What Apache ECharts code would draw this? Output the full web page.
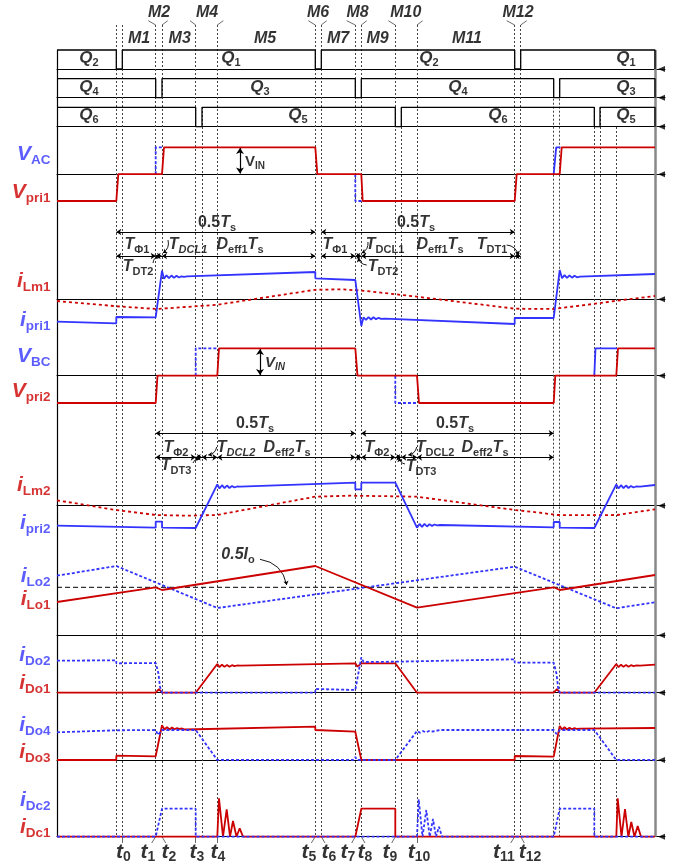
<!DOCTYPE html>
<html><head><meta charset="utf-8">
<script src="https://cdn.jsdelivr.net/npm/echarts@6/dist/echarts.min.js"></script>
<style>html,body{margin:0;padding:0;background:#fff}#c{width:695px;height:867px}</style>
</head><body><div id="c"></div>
<script>
// ---------------- data (time in arbitrary units, values in arbitrary units) ----------------
const markerTimes = [59.3,65.3,98.7,105,138.7,145,160.3,258.3,264.3,298.3,304.3,338.3,344.3,360,457.7,463.7,496.7,502.7,537.3,543,559.3];
const timeTickLabels = ['0','1','2','3','4','5','6','7','8','9','10','11','12'];
const timeTickAt = [65.3,98.7,105,138.7,160.3,258.3,264.3,298.3,304.3,338.3,360,457.7,463.7];
const modeLabelsTop = ['M2','M4','M6','M8','M10','M12'];
const modeLabelsBottom = ['M1','M3','M5','M7','M9','M11'];

const gateQ12 = [[0,1],[59.3,1],[59.3,0],[65.3,0],[65.3,1],[258.3,1],[258.3,0],[264.3,0],[264.3,1],[457.7,1],[457.7,0],[463.7,0],[463.7,1],[598,1],[598,0]];
const gateQ34 = [[0,1],[98.7,1],[98.7,0],[105,0],[105,1],[298.3,1],[298.3,0],[304.3,0],[304.3,1],[496.7,1],[496.7,0],[502.7,0],[502.7,1],[598,1],[598,0]];
const gateQ56 = [[0,1],[138.7,1],[138.7,0],[145,0],[145,1],[338.3,1],[338.3,0],[344.3,0],[344.3,1],[537.3,1],[537.3,0],[543,0],[543,1],[598,1],[598,0]];

// VAC where it differs from Vpri1
const vAC1 = [[98.7,0],[98.7,1],[105,1]];
const vAC2 = [[298.3,0],[298.3,-1],[304.3,-1]];
const vAC3 = [[496.7,0],[499.2,1],[503.5,1]];
const vPri1 = [[0,-1],[59.3,-1],[61.3,0],[105,0],[107,1],[258.3,1],[260.3,0],[304.3,0],[305.7,-1],[457.7,-1],[459.7,0],[502.7,0],[504.7,1],[598,1]];

const iLm1  = [[0,-0.17],[60,-0.7],[100,-0.97],[160,-0.55],[258,0.95],[285,1.0],[310,0.82],[360,0.26],[458,-0.94],[496,-0.97],[536,-0.47],[560,-0.14],[598,0.33]];
const iPri1 = [[0,-2.24],[59.3,-2.4],[59.3,-1.77],[98.7,-1.8],[105,2.86],
  [107,2.05],[109.5,2.4],[112,2.12],[114.5,2.38],[117,2.14],[119.5,2.36],[122,2.18],[124.5,2.3],[127,2.25],[130,2.3],
  [258.3,2.73],[258.3,2.1],[298.3,1.93],[304.3,-2.67],
  [306.5,-1.8],[309,-2.05],[311.5,-1.78],[314,-2.02],[316.5,-1.8],[319,-2.0],[321.5,-1.85],[324,-1.95],[328,-1.94],
  [457.7,-2.47],[457.7,-1.87],[496.7,-1.87],[502.7,2.93],
  [505,2.1],[507.5,2.42],[510,2.14],[512.5,2.4],[515,2.16],[517.5,2.36],[520,2.2],[523,2.26],[598,2.53]];

// VBC where it differs from Vpri2
const vBC1 = [[138.7,0],[138.7,1],[160.3,1]];
const vBC2 = [[338.3,0],[338.3,-1],[360,-1]];
const vBC3 = [[537.3,0],[538.5,1],[560,1]];
const vPri2 = [[0,-1],[98.7,-1],[100.5,0],[160.3,0],[162,1],[298.3,1],[300.5,0],[360,0],[362,-1],[496.7,-1],[498.3,0],[559.3,0],[561,1],[598,1]];

const iLm2  = [[0,0.54],[59,-0.43],[99,-0.93],[130,-1.0],[160,-0.93],[258,0.9],[293,1.0],[330,0.95],[360,0.9],[458,-0.43],[483,-0.7],[500,-0.93],[530,-0.95],[560,-0.93],[598,-0.36]];
const iPri2 = [[0,-2.0],[98.7,-2.2],[98.7,-1.6],[105,-1.6],[105,-2.2],[138.7,-2.23],[160.3,2.14],
  [162.5,1.72],[165,2.05],[167.5,1.75],[170,2.02],[172.5,1.77],[175,1.98],[177.5,1.82],[180,1.92],[183,1.9],
  [298.3,2.3],[298.3,1.64],[304.3,1.64],[304.3,2.3],[338.3,2.3],[360,-2.2],
  [362.5,-1.82],[365,-2.12],[367.5,-1.82],[370,-2.08],[372.5,-1.85],[375,-2.02],[377.5,-1.88],[380,-1.96],[383,-1.93],
  [496.7,-2.16],[496.7,-1.63],[502.7,-1.63],[502.7,-2.2],[537.3,-2.23],[559.3,2.14],
  [561.5,1.72],[564,2.05],[566.5,1.75],[569,2.02],[571.5,1.77],[574,1.98],[576.5,1.82],[579,1.92],[583,1.9],[598,2.07]];

const halfIo = [[0,4.8],[598,4.8]];
const iLo2 = [[0,5.96],[59.3,6.93],[160.3,2.73],[457.7,6.86],[559.3,2.7],[598,3.3]];
const iLo1 = [[0,3.33],[98.7,4.8],[105,4.53],[258.3,6.93],[360,2.76],[496.7,4.8],[502.7,4.53],[598,6.03]];

const iDo2 = [[0,3.2],[59.3,3.24],[59.3,2.94],[98.7,2.97],[101.5,1.9],[103,0.6],[105,0],[258.3,0],[258.3,0.37],[298.3,0.27],[304.3,3.54],[306.5,3.07],[338.3,3.1],[457.7,3.34],[457.7,3.0],[496.7,3.0],[499.5,1.9],[501,0.6],[502.7,0],[598,0]];
const iDo1 = [[0,0],[98.7,0],[100.5,0.2],[102,0.37],[103.5,0.2],[105,0],[138.7,0],[160.3,2.87],
  [162.5,2.55],[165,2.8],[167.5,2.58],[170,2.78],[172.5,2.6],[175,2.75],[177.5,2.65],[180,2.72],[183,2.7],
  [298.3,2.94],[300.5,2.6],[302.5,2.62],[304.3,2.94],[338.3,2.94],[360,0],[496.7,0],[498.5,0.2],[500,0.37],[501.5,0.2],[502.7,0],[537.3,0],[559.3,2.87],
  [561.5,2.55],[564,2.8],[566.5,2.58],[569,2.78],[571.5,2.6],[574,2.75],[576.5,2.65],[579,2.72],[583,2.7],[598,2.8]];

const iDo4 = [[0,2.77],[59.3,2.97],[98.7,3.0],[101,2.5],[105,3.0],[138.7,3.0],[160.3,0],[296,0],[298.3,0.3],[300,0],[338.3,0],[360,2.9],[363,2.72],[366,2.9],[369,2.76],[372,2.9],[376,2.85],[383,3.0],[496.7,3.0],[499.5,2.6],[502.7,3.0],[537.3,3.0],[559.3,0],[598,0]];
const iDo3 = [[0,0],[59.3,0],[59.3,0.43],[98.7,0.37],[105,3.47],
  [107.5,3.05],[110,3.28],[112.5,3.05],[115,3.25],[117.5,3.07],[120,3.2],[122.5,3.1],[125,3.15],[128,3.05],
  [258.3,3.33],[258.3,3.0],[298.3,2.83],[304.3,0],[457.7,0],[457.7,0.4],[496.7,0.33],[502.7,3.4],
  [505,3.05],[507.5,3.27],[510,3.05],[512.5,3.23],[515,3.08],[517.5,3.2],[520,3.1],[523,3.13],[598,3.2]];

const iDc2 = [[0,0],[98.7,0],[105,2.8],[138.7,2.8],[138.7,0],[360,0],[361.7,3.74],[365.5,0],[369.3,2.67],[372.7,0],[376,1.77],[379,0],[382,1.0],[385,0],[496.7,0],[502.7,2.8],[537.3,2.8],[537.3,0],[598,0]];
const iDc1 = [[0,0],[160.3,0],[162,3.84],[166,0],[169.7,2.74],[173,0],[176,1.57],[179.5,0],[182.7,0.84],[186,0],[298.3,0],[304.3,2.8],[338.3,2.8],[338.3,0],[559.3,0],[560.7,3.84],[564.5,0],[568,2.77],[571.3,0],[574.3,1.47],[577.5,0],[580.7,1.07],[584,0],[598,0]];

// ---------------- layout & style ----------------
const FONT = '"Liberation Sans", Arial, sans-serif';
const BLUE = '#3333ff', RED = '#cc0000';
const W = 1.8;
const bands = [
  {top:50, height:19, min:0, max:1},
  {top:78.7, height:19, min:0, max:1},
  {top:107.3, height:19.4, min:0, max:1},
  {top:147.3, height:53.7, min:-1, max:1},
  {top:259.3, height:75, min:-3.5, max:4},
  {top:348.3, height:54.7, min:-1, max:1},
  {top:475.7, height:65, min:-3.5, max:3},
  {top:555.3, height:80, min:0, max:8},
  {top:652.7, height:40, min:0, max:4},
  {top:720, height:40, min:0, max:4},
  {top:796.7, height:40, min:0, max:4}
];
const traces = [
  [0, gateQ12, '#000', 'solid', 1.3],
  [1, gateQ34, '#000', 'solid', 1.3],
  [2, gateQ56, '#000', 'solid', 1.3],
  [3, vAC1, BLUE, [3,2], W],
  [3, vAC2, BLUE, [3,2], W],
  [3, vAC3, BLUE, 'solid', W],
  [3, vPri1, RED, 'solid', W],
  [4, iLm1, RED, [3,3], W],
  [4, iPri1, BLUE, 'solid', W],
  [5, vBC1, BLUE, [3,2], W],
  [5, vBC2, BLUE, [3,2], W],
  [5, vBC3, BLUE, 'solid', W],
  [5, vPri2, RED, 'solid', W],
  [6, iLm2, RED, [3,3], W],
  [6, iPri2, BLUE, 'solid', W],
  [7, halfIo, '#000', [5,3], 1],
  [7, iLo2, BLUE, [3,2], W],
  [7, iLo1, RED, 'solid', W],
  [8, iDo1, RED, 'solid', W],
  [8, iDo2, BLUE, [3,2], W],
  [9, iDo3, RED, 'solid', W],
  [9, iDo4, BLUE, [3,2], W],
  [10, iDc1, RED, 'solid', W],
  [10, iDc2, BLUE, [3,2], W]
];
const markerTop = [25,25,25,25,25,107,25,25,25,25,25,25,107,25,25,25,78.7,78.7,107,107,127];
const tickLeaderEnd = [65.3,94.7,108.7,138.7,160.3,254.3,268,294.7,308,334.7,360,453.7,467.3];
const tickLabelX = [66.5,91,112,140,161,252,272,291,308,333,362,447,473];
const modeTopX = [102,150,261,300.5,348.8,461];
const modeBottomX = [82,122.7,208,281,320.5,410];
const modeLeaders = [[91.3,98.7],[110.7,105],[133,138.7],[166.3,160.3],[251.3,258.3],[269.7,264.3],[289.7,298.3],[309.7,304.3],[331.3,338.3],[365.7,360],[449.7,457.7],[469.7,463.7]];

const rich = {
  Lb:{fontFamily:FONT,fontSize:21,fontWeight:'bold',fontStyle:'italic',color:BLUE,lineHeight:26},
  lb:{fontFamily:FONT,fontSize:13.5,fontWeight:'bold',color:BLUE,lineHeight:13,verticalAlign:'bottom'},
  Lr:{fontFamily:FONT,fontSize:21,fontWeight:'bold',fontStyle:'italic',color:RED,lineHeight:26},
  lr:{fontFamily:FONT,fontSize:13.5,fontWeight:'bold',color:RED,lineHeight:13,verticalAlign:'bottom'},
  T:{fontFamily:FONT,fontSize:21,fontWeight:'bold',fontStyle:'italic',color:'#000',lineHeight:24},
  t:{fontFamily:FONT,fontSize:14,fontWeight:'bold',color:'#000',lineHeight:12,verticalAlign:'bottom'},
  Q:{fontFamily:FONT,fontSize:17,fontWeight:'bold',fontStyle:'italic',color:'#000',lineHeight:20},
  q:{fontFamily:FONT,fontSize:11,fontWeight:'bold',color:'#000',lineHeight:10,verticalAlign:'bottom'},
  M:{fontFamily:FONT,fontSize:16,fontWeight:'bold',fontStyle:'italic',color:'#000',lineHeight:18},
  A:{fontFamily:FONT,fontSize:16,fontWeight:'bold',fontStyle:'italic',color:'#000',lineHeight:20},
  Ai:{fontFamily:FONT,fontSize:16,fontWeight:'bold',fontStyle:'italic',color:'#000',lineHeight:20},
  N:{fontFamily:FONT,fontSize:16,fontWeight:'bold',color:'#000',lineHeight:20},
  a:{fontFamily:FONT,fontSize:11,fontWeight:'bold',color:'#000',lineHeight:10,verticalAlign:'bottom'},
  ai:{fontFamily:FONT,fontSize:11,fontWeight:'bold',fontStyle:'italic',color:'#000',lineHeight:10,verticalAlign:'bottom'},
  V:{fontFamily:FONT,fontSize:15,fontWeight:'bold',color:'#000',lineHeight:18},
  v:{fontFamily:FONT,fontSize:10,fontWeight:'bold',color:'#000',lineHeight:9,verticalAlign:'bottom'},
  Vi:{fontFamily:FONT,fontSize:15,fontWeight:'bold',fontStyle:'italic',color:'#000',lineHeight:18},
  vi:{fontFamily:FONT,fontSize:10,fontWeight:'bold',fontStyle:'italic',color:'#000',lineHeight:9,verticalAlign:'bottom'}
};

const leftLabels = [['b','V','AC',154],['r','V','pri1',192],['r','i','Lm1',281],['b','i','pri1',320],['b','V','BC',356],['r','V','pri2',391],
  ['r','i','Lm2',485],['b','i','pri2',523],['b','i','Lo2',576],['r','i','Lo1',599],['b','i','Do2',655],['r','i','Do1',683],
  ['b','i','Do4',725],['r','i','Do3',752],['b','i','Dc2',800],['r','i','Dc1',827]];
const gateLabels = [['2',32,58],['1',174,58],['2',372,58],['1',569,58],['4',32,87],['3',203,87],['4',401,87],['3',569,87],['6',32,115.5],['5',241,115.5],['6',441,115.5],['5',569,115.5]];
const annotations = [
  ['{N|0.5}{A|T}{a|s}',160,223],['{N|0.5}{A|T}{a|s}',359,223],
  ['{A|T}{a|Φ1}',80,245],['{A|T}{ai|DCL1}',131,245],['{A|D}{a|eff1}{A|T}{a|s}',183,245],['{A|T}{a|DT2}',81,267],
  ['{A|T}{a|Φ1}',278,245],['{A|T}{a|DCL1}',328,245],['{A|D}{a|eff1}{A|T}{a|s}',383,245],['{A|T}{a|DT1}',435,245],['{A|T}{a|DT2}',326,267],
  ['{N|0.5}{A|T}{a|s}',198,424],['{N|0.5}{A|T}{a|s}',398,424],
  ['{A|T}{a|Φ2}',119,448],['{A|T}{a|DT3}',119,466],['{A|T}{ai|DCL2}',179,448],['{A|D}{a|eff2}{A|T}{a|s}',230,448],
  ['{A|T}{a|Φ2}',320,448],['{A|T}{a|DCL2}',378,448],['{A|D}{a|eff2}{A|T}{a|s}',428,448],['{A|T}{a|DT3}',364,467],
  ['{Ai|0.5}{A|I}{a|o}',181,555]
];
const dimArrows = [
  [59.3,258.3,232],[264.3,457.7,232],
  [59.3,98.7,256],[98.7,105,256],[105,258.3,256],[264.3,298.3,256],[298.3,304.3,256],[304.3,457.7,256],[457.7,463.7,256],
  [98.7,298.3,433.3],[304.3,496.7,433.3],
  [98.7,138.7,457.3],[138.7,145,457.3],[145,160.3,457.3],[160.3,298.3,457.3],[298.3,304.3,457.3],[304.3,338.3,457.3],[338.3,344.3,457.3],[344.3,360,457.3],[360,496.7,457.3]
];
const curvedLeaders = [
  [[111,240],[106,253]],[[96,263],[102,256]],[[311,242],[304.7,253]],[[309.7,265],[301.3,258]],[[449.7,245],[461.3,255]],
  [[136,463],[142,459]],[[159.7,447],[151.3,455]],[[348,464],[342.3,458]],[[359.7,447],[351.3,455]],[[203,559.3],[229.7,585]]
];

// ---------------- build ----------------
const grid = [{left:0, width:665, top:0, height:867, outerBoundsMode:'none'}];
const xAxis = [{gridIndex:0, type:'value', min:-57, max:608, show:false}];
const yAxis = [{gridIndex:0, type:'value', min:0, max:867, inverse:true, show:false}];
bands.forEach((b,i)=>{
  grid.push({left:57, width:608, top:b.top, height:b.height, outerBoundsMode:'none'});
  xAxis.push({gridIndex:i+1, type:'value', min:0, max:608, axisLabel:{show:false}, axisTick:{show:false}, splitLine:{show:false},
    axisLine:{show:true, onZero:true, lineStyle:{color:'#000', width:1}}});
  yAxis.push({gridIndex:i+1, type:'value', min:b.min, max:b.max, show:false, splitLine:{show:false}});
});

const series = [];
function linesSeries(data, lineStyle, extra){
  return Object.assign({type:'lines', coordinateSystem:'cartesian2d', xAxisIndex:0, yAxisIndex:0, silent:true,
    symbol:['none','none'], lineStyle:Object.assign({opacity:1}, lineStyle), data:data.map(c=>({coords:c}))}, extra||{});
}
series.push(linesSeries(markerTimes.map((t,i)=>[[t,markerTop[i]],[t,836.7]]), {color:'#444', width:1, type:[2,2]}));
series.push(linesSeries(timeTickAt.map((t,i)=>[[t,836.7],[tickLeaderEnd[i],843]]), {color:'#444', width:0.8}));
series.push(linesSeries(modeLeaders.map(p=>[[p[0],20.7],[p[1],25]]), {color:'#444', width:0.8}));
series.push(linesSeries([[[0,50],[0,836.7]]], {color:'#000', width:1.2}));
series.push(linesSeries([[[598,50],[598,836.7]]], {color:'#888', width:2.5}));
series.push(linesSeries(dimArrows.map(d=>[[d[0],d[2]],[d[1],d[2]]]), {color:'#000', width:1}, {symbol:['arrow','arrow'], symbolSize:5}));
series.push(linesSeries([[[183,148],[183,173.5]],[[203,349],[203,375]]], {color:'#000', width:1.2}, {symbol:['arrow','arrow'], symbolSize:6}));
series.push(linesSeries(curvedLeaders, {color:'#000', width:0.9, curveness:0.35}, {symbol:['none','arrow'], symbolSize:4}));

traces.forEach(tr=>{
  const gi = tr[0]+1;
  series.push({type:'line', xAxisIndex:gi, yAxisIndex:gi, data:tr[1], showSymbol:false, symbol:'none', clip:false, silent:true,
    lineStyle:{color:tr[2], type:tr[3], width:tr[4]}, itemStyle:{color:tr[2]}});
});
bands.forEach((b,i)=>{
  series.push({type:'scatter', xAxisIndex:i+1, yAxisIndex:i+1, data:[[604.5,0]], symbol:'triangle', symbolRotate:90, symbolSize:[6,7],
    itemStyle:{color:'#000'}, clip:false, silent:true});
});

function textSeries(items){
  return {type:'scatter', xAxisIndex:0, yAxisIndex:0, symbolSize:1, itemStyle:{color:'rgba(0,0,0,0)'}, clip:false, silent:true,
    label:{show:true, position:'inside', color:'#000', textBorderWidth:0, rich:rich},
    data: items.map(it=>({value:[it.x,it.y], label:{formatter:it.f, align:it.align||'center', verticalAlign:'middle'}}))};
}
const texts = [];
leftLabels.forEach(l=>{ const c = l[0]; texts.push({x:-6.5, y:l[3], align:'right', f:'{L'+c+'|'+l[1]+'}{l'+c+'|'+l[2]+'}'}); });
timeTickLabels.forEach((s,i)=>texts.push({x:tickLabelX[i], y:852, f:'{T|t}{t|'+s+'}'}));
modeLabelsTop.forEach((s,i)=>texts.push({x:modeTopX[i], y:13, f:'{M|'+s+'}'}));
modeLabelsBottom.forEach((s,i)=>texts.push({x:modeBottomX[i], y:39, f:'{M|'+s+'}'}));
gateLabels.forEach(g=>texts.push({x:g[1], y:g[2], f:'{Q|Q}{q|'+g[0]+'}'}));
annotations.forEach(a=>texts.push({x:a[1], y:a[2], f:a[0]}));
texts.push({x:188, y:162, align:'left', f:'{V|V}{v|IN}'});
texts.push({x:208, y:363, align:'left', f:'{Vi|V}{vi|IN}'});
series.push(textSeries(texts));

const chart = echarts.init(document.getElementById('c'), null, {renderer:'canvas'});
chart.setOption({animation:false, backgroundColor:'#fff', grid, xAxis, yAxis, series});
</script></body></html>
